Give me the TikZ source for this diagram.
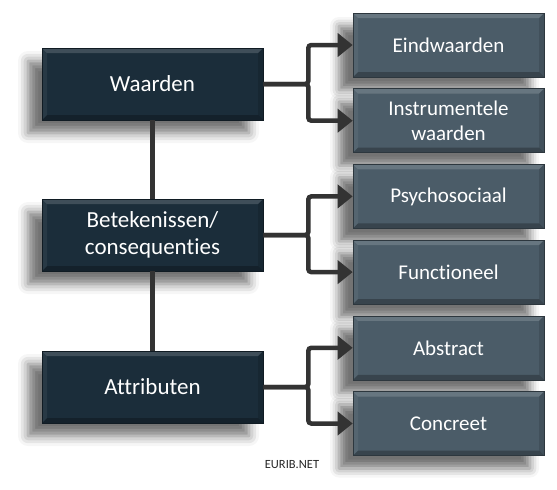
\documentclass[tikz,border=0pt]{standalone}
\usepackage{fontspec}
\setmainfont{Carlito}[Ligatures={NoCommon}]
\usetikzlibrary{arrows.meta,shadows.blur}
\definecolor{darkbox}{HTML}{1B2D3A}
\definecolor{lightbox}{HTML}{4B5C68}
\definecolor{linkgray}{HTML}{333333}
\tikzset{
  bevel/.style={path picture={
    \fill[white, opacity=.16] (path picture bounding box.north west) -- (path picture bounding box.north east)
      -- ([shift={(-5pt,-5pt)}]path picture bounding box.north east) -- ([shift={(5pt,-5pt)}]path picture bounding box.north west) -- cycle;
    \fill[black, opacity=.25] (path picture bounding box.south west) -- (path picture bounding box.south east)
      -- ([shift={(-5pt,5pt)}]path picture bounding box.south east) -- ([shift={(5pt,5pt)}]path picture bounding box.south west) -- cycle;
    \fill[black, opacity=.12] (path picture bounding box.south east) -- (path picture bounding box.north east)
      -- ([shift={(-5pt,-5pt)}]path picture bounding box.north east) -- ([shift={(-5pt,5pt)}]path picture bounding box.south east) -- cycle;
    \fill[white, opacity=.06] (path picture bounding box.south west) -- (path picture bounding box.north west)
      -- ([shift={(5pt,-5pt)}]path picture bounding box.north west) -- ([shift={(5pt,5pt)}]path picture bounding box.south west) -- cycle;
  }}
}
\begin{document}
\begin{tikzpicture}[x=1pt, y=-1pt,
  mainbox/.style={rectangle, fill=darkbox, draw=darkbox!60!black, line width=.6pt, bevel,
    blur shadow={shadow xshift=-14pt, shadow yshift=-13pt, shadow blur radius=10pt, shadow opacity=55},
    text=white, align=center, minimum width=221pt, minimum height=72pt, font=\fontsize{23}{27}\selectfont},
  subbox/.style={rectangle, fill=lightbox, draw=lightbox!60!black, line width=.6pt, bevel,
    blur shadow={shadow xshift=-14pt, shadow yshift=-13pt, shadow blur radius=9pt, shadow opacity=55},
    text=white, align=center, minimum width=191pt, minimum height=64pt, font=\fontsize{21}{25}\selectfont},
  link/.style={draw=linkgray, line width=4.5pt, rounded corners=3pt},
  tip/.style={-{Triangle[length=15pt, width=23pt]}}]
  \useasboundingbox (0,0) rectangle (557,490);
  % left column
  \node[mainbox] (waarden) at (152.5,84) {Waarden};
  \node[mainbox] (betek) at (152.5,235) {Betekenissen/\\consequenties};
  \node[mainbox] (attrib) at (152.5,387) {Attributen};
  % right column
  \foreach \name/\txt [count=\i from 0] in {
    eind/Eindwaarden, instr/{Instrumentele\\waarden},
    psycho/Psychosociaal, funct/Functioneel,
    abstr/Abstract, concr/Concreet} {
    \node[subbox] (\name) at (448.5,45+75.7*\i) {\txt};
  }
  % connectors
  \draw[link] (waarden.south) -- (betek.north);
  \draw[link] (betek.south) -- (attrib.north);
  \foreach \from/\up/\down in {waarden/eind/instr, betek/psycho/funct, attrib/abstr/concr} {
    \draw[link, tip] (\from.east) -- ++(45,0) |- (\up.west);
    \draw[link, tip] (\from.east) -- ++(45,0) |- (\down.west);
  }
  \node[font=\fontsize{12.5}{14}\selectfont, text=black!85] (credit) at (292,465) {EURIB.NET};
\end{tikzpicture}
\end{document}
